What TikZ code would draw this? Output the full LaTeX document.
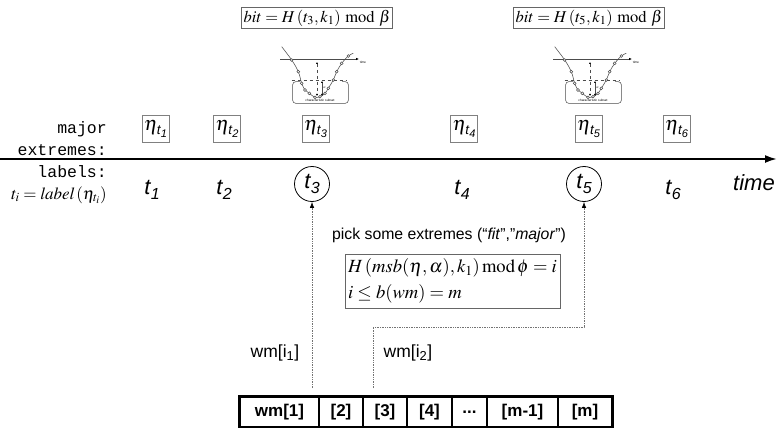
\documentclass[tikz,border=0pt]{standalone}
\usepackage{mathptmx}
\usepackage{fontspec}
\setmainfont{Liberation Serif}
\setsansfont{Liberation Sans}
\setmonofont{Liberation Mono}
\usetikzlibrary{arrows.meta,fit}

% sans italic time label t with lowered index
\newcommand{\tlab}[1]{t\kern0.3pt\raisebox{-5pt}{\fontsize{16}{16}\selectfont #1}}
% eta with sans italic index t_i
\newcommand{\etalab}[1]{$\eta$\kern-0.8pt\raisebox{-4pt}{\fontsize{13.5}{13.5}\selectfont\sffamily\itshape t\kern0.1pt\raisebox{-2.5pt}{\fontsize{11}{11}\selectfont #1}}}

\tikzset{
  monolab/.style={font=\fontsize{16.5}{18}\selectfont\ttfamily, inner sep=0},
  sanslab/.style={font=\fontsize{17.5}{20}\selectfont\sffamily, inner sep=0},
  tlabel/.style={font=\fontsize{22}{24}\selectfont\sffamily\itshape, inner sep=0},
  tcirc/.style={tlabel, circle, draw, line width=0.8, minimum size=35},
  etabox/.style={draw=black!50, line width=0.8, minimum size=27, inner sep=0.5,
                 font=\fontsize{20}{22}\selectfont},
  formbox/.style={draw=black!60, line width=1, inner sep=2,
                  font=\fontsize{16.5}{18}\selectfont},
  cell/.style={draw, line width=1.5, minimum height=30, inner sep=0,
               font=\fontsize{17}{19}\selectfont\sffamily\bfseries},
  ptr/.style={draw=black!55, densely dotted, line width=0.7,
              -{Latex[length=6,width=4.5,color=black]}},
  insetline/.style={draw=black!70, line width=0.55},
  tinytext/.style={font=\fontsize{3.2}{3.5}\selectfont\sffamily, inner sep=0},
  % small sketch of a local minimum with its characteristic subset
  inset/.pic={
    \draw[insetline, -{Latex[length=3,width=2.5,color=black]}] (-37,0) -- (42,0);
    \node[tinytext] at (46,3) {time};
    \draw[insetline] plot[smooth, tension=0.6] coordinates {
      (-35.3,-12.3) (-25.3,1) (-18.7,12.7) (-15.3,24.3) (-12,31) (-7.7,34.3)
      (-2,38.3) (3,37.7) (8,34.3) (11.3,29.3) (16.3,21) (19.7,12.7)
      (24.7,4.3) (31.3,-3) (36.3,-5.7)};
    \foreach \px/\py in {-25.3/1, -18.7/12.7, -15.3/24.3, -12/31, -7.7/34.3,
        -2/38.3, 3/37.7, 8/34.3, 11.3/29.3, 16.3/21, 19.7/12.7, 24.7/4.3, 31.3/-3}
      \draw[insetline, fill=white] (\px,\py) circle (1.4);
    \draw[insetline, dashed] (-25.3,21) -- (29.7,21);
    \draw[insetline, dashed, {Latex[length=2,width=2,color=black]}-{Latex[length=2,width=2,color=black]}] (0,3) -- (0,37);
    \draw[insetline, {Latex[length=2,width=2,color=black]}-{Latex[length=2,width=2,color=black]}] (5,22) -- (5,37);
    \node[tinytext] at (7.5,29) {$\alpha$};
    \draw[insetline, rounded corners=3] (-17,22.7) -- (-24.3,22.7) -- (-24.3,44.3)
      -- (31.3,44.3) -- (31.3,22.7) -- (25,22.7);
    \node[tinytext] at (3,41.5) {characteristic subset};
  }
}

\begin{document}
\begin{tikzpicture}[x=1pt,y=-1pt]
\useasboundingbox (0,0) rectangle (777,428);

% hash formulas for the selected extremes
\node[formbox] (h3) at (317,18) {$bit = H\,(t_3,k_1)\bmod\beta$};
\node[formbox] (h5) at (589,18) {$bit = H\,(t_5,k_1)\bmod\beta$};

\pic (i3) at (317,59) {inset};
\pic (i5) at (590,59) {inset};

% row headings
\node[monolab, anchor=base east] (lmaj) at (107,133) {major};
\node[monolab, anchor=base east] (lext) at (107,155) {extremes:};
\node[monolab, anchor=base east] (llab) at (107,177) {labels:};
\node[anchor=base east, inner sep=0, font=\fontsize{17}{18}\selectfont] (ldef) at (107,199)
  {$t_i = \mathit{label}\,(\eta_{t_i})$};

% major extremes
\node[etabox] (e1) at (155.5,129) {\etalab{1}};
\node[etabox] (e2) at (227,129) {\etalab{2}};
\node[etabox] (e3) at (315.5,129) {\etalab{3}};
\node[etabox] (e4) at (464,129) {\etalab{4}};
\node[etabox] (e5) at (588.5,129) {\etalab{5}};
\node[etabox] (e6) at (676.5,129) {\etalab{6}};

% time axis
\coordinate (ax0) at (0,159);
\coordinate (ax1) at (777,159);
\draw[line width=2, -{Latex[length=12,width=8]}] (ax0) -- (ax1);
\node[tlabel, anchor=base] (time) at (754,190) {time};

% labels
\node[tlabel, anchor=base] (t1) at (152,194) {\tlab{1}};
\node[tlabel, anchor=base] (t2) at (224,194) {\tlab{2}};
\node[tcirc] (t3) at (312,184) {\tlab{3}};
\node[tlabel, anchor=base] (t4) at (462,194) {\tlab{4}};
\node[tcirc] (t5) at (584,184) {\tlab{5}};
\node[tlabel, anchor=base] (t6) at (673,194) {\tlab{6}};

% selection rule
\node[sanslab, font=\fontsize{15.8}{18}\selectfont\sffamily] (pick) at (449,235)
  {pick some extremes (“\textit{fit}”,”\textit{major}”)};
\node[draw=black!60, line width=1, align=left, minimum width=215, minimum height=54,
      inner sep=2, font=\fontsize{18.6}{26}\selectfont] (rule) at (452.5,281)
  {$H\,(msb(\eta,\alpha),k_1)\,\mathrm{mod}\,\phi = i$\\ $i \le b(wm) = m$};

% watermark array
\node[cell, minimum width=79] (a1) at (279.5,412) {wm[1]};
\node[cell, minimum width=44] (a2) at (341,412) {[2]};
\node[cell, minimum width=44] (a3) at (385,412) {[3]};
\node[cell, minimum width=45] (a4) at (429.5,412) {[4]};
\node[cell, minimum width=35] (a5) at (469.5,412) {...};
\node[cell, minimum width=71] (a6) at (522.5,412) {[m-1]};
\node[cell, minimum width=54] (a7) at (585,412) {[m]};
\node[draw, line width=3, inner sep=0, fit=(a1)(a7)] (arr) {};

% embedding of the watermark bits
\node[sanslab] (w1) at (275,353) {wm[i\textsubscript{1}]};
\node[sanslab] (w2) at (408,353) {wm[i\textsubscript{2}]};
\coordinate (s1) at (312,388);
\coordinate (s2) at (373,388);
\coordinate (k2) at (373,327);
\draw[ptr] (s1) -- (t3);
\draw[ptr] (s2) -- (k2) -| (t5);
\end{tikzpicture}
\end{document}
